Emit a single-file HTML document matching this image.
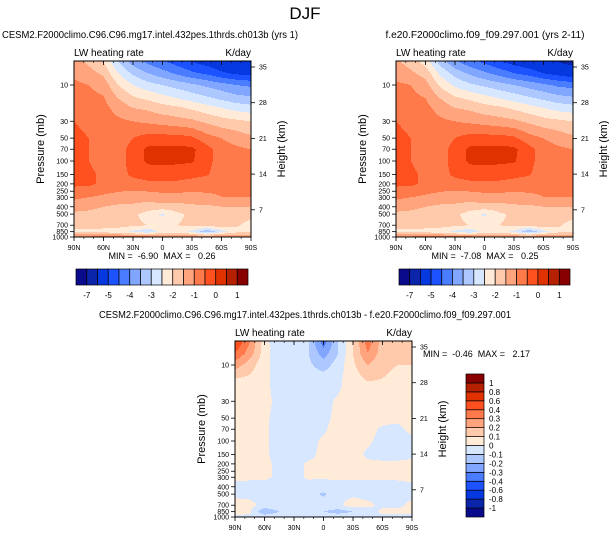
<!DOCTYPE html>
<html><head><meta charset="utf-8">
<style>
body{margin:0;background:#fff;}
#root{position:relative;width:609px;height:538px;overflow:hidden;font-family:"Liberation Sans",sans-serif;color:#000;}
text{white-space:pre;}
</style></head>
<body>
<div id="root">
<svg id="svg" width="609" height="538" style="position:absolute;left:0;top:0"></svg>
</div>
<script>
const pLevels=[5,7,10,15,20,30,50,70,100,150,200,300,400,500,700,850,1000];
const latValues=[90,75,60,45,30,15,0,-15,-30,-45,-60,-75,-90];
const fieldA=[
[-1.3,-1.6,-2.0,-3.0,-3.7,-4.1,-4.4,-4.7,-5.0,-5.2,-5.5,-5.8,-6.0],
[-1.1,-1.3,-1.6,-2.5,-3.1,-3.5,-3.8,-4.1,-4.4,-4.6,-4.9,-5.1,-5.2],
[-0.9,-1.0,-1.2,-2.0,-2.5,-2.8,-3.0,-3.2,-3.4,-3.6,-3.8,-4.0,-4.1],
[-0.8,-0.85,-0.95,-1.5,-1.9,-2.1,-2.3,-2.5,-2.7,-2.9,-3.1,-3.3,-3.4],
[-0.7,-0.75,-0.85,-1.2,-1.5,-1.6,-1.8,-1.9,-2.1,-2.3,-2.5,-2.7,-2.8],
[-0.5,-0.6,-0.75,-0.9,-1.0,-1.1,-1.2,-1.3,-1.4,-1.6,-1.8,-1.9,-2.0],
[-0.4,-0.5,-0.7,-0.8,-0.5,-0.3,-0.3,-0.3,-0.4,-0.8,-1.0,-1.2,-1.4],
[-0.4,-0.5,-0.7,-0.7,-0.3,0.1,0.15,0.15,0.1,-0.3,-0.8,-0.9,-1.0],
[-0.4,-0.5,-0.7,-0.7,-0.3,0.1,0.15,0.1,0.05,-0.3,-0.8,-0.9,-0.9],
[-0.3,-0.4,-0.6,-0.7,-0.4,-0.3,-0.3,-0.3,-0.35,-0.45,-0.8,-0.9,-0.9],
[-0.4,-0.4,-0.6,-0.7,-0.7,-0.6,-0.6,-0.6,-0.7,-0.8,-0.9,-0.9,-0.9],
[-0.9,-1.0,-1.1,-1.2,-1.3,-1.3,-1.2,-1.2,-1.2,-1.1,-1.0,-1.0,-1.0],
[-1.3,-1.4,-1.5,-1.6,-1.6,-1.7,-1.7,-1.7,-1.6,-1.6,-1.5,-1.5,-1.5],
[-1.6,-1.6,-1.7,-1.8,-1.9,-2.2,-2.6,-2.1,-1.9,-1.8,-1.7,-1.7,-1.7],
[-1.8,-1.8,-1.8,-1.8,-1.9,-2.0,-2.1,-2.0,-1.9,-1.8,-1.7,-1.9,-2.3],
[-2.1,-2.1,-2.2,-2.3,-2.6,-2.9,-2.3,-2.3,-2.6,-3.4,-2.7,-2.2,-2.0],
[-0.9,-0.9,-0.8,-0.7,-0.8,-0.8,-0.9,-1.0,-1.0,-0.9,-0.9,-0.9,-1.2]];
const fieldB=[
[-1.4,-1.7,-2.2,-3.2,-3.9,-4.3,-4.6,-4.9,-5.2,-5.4,-5.7,-6.0,-6.3],
[-1.2,-1.4,-1.7,-2.6,-3.2,-3.6,-3.9,-4.2,-4.5,-4.7,-5.0,-5.2,-5.4],
[-0.9,-1.0,-1.3,-2.1,-2.6,-2.9,-3.1,-3.3,-3.5,-3.7,-3.9,-4.1,-4.2],
[-0.8,-0.85,-1.0,-1.5,-1.9,-2.1,-2.3,-2.5,-2.7,-2.9,-3.1,-3.3,-3.4],
[-0.7,-0.75,-0.85,-1.2,-1.5,-1.6,-1.8,-1.9,-2.1,-2.3,-2.5,-2.7,-2.8],
[-0.5,-0.6,-0.75,-0.9,-1.0,-1.1,-1.2,-1.3,-1.4,-1.6,-1.8,-1.9,-2.0],
[-0.4,-0.5,-0.7,-0.8,-0.5,-0.3,-0.3,-0.3,-0.4,-0.8,-1.0,-1.2,-1.4],
[-0.4,-0.5,-0.7,-0.7,-0.3,0.1,0.15,0.15,0.1,-0.3,-0.8,-0.9,-1.0],
[-0.4,-0.5,-0.7,-0.7,-0.3,0.1,0.15,0.1,0.05,-0.3,-0.8,-0.9,-0.9],
[-0.3,-0.4,-0.6,-0.7,-0.4,-0.3,-0.3,-0.3,-0.35,-0.45,-0.8,-0.9,-0.9],
[-0.4,-0.4,-0.6,-0.7,-0.7,-0.6,-0.6,-0.6,-0.7,-0.8,-0.9,-0.9,-0.9],
[-0.9,-1.0,-1.1,-1.2,-1.3,-1.3,-1.2,-1.2,-1.2,-1.1,-1.0,-1.0,-1.0],
[-1.3,-1.4,-1.5,-1.6,-1.6,-1.7,-1.7,-1.7,-1.6,-1.6,-1.5,-1.5,-1.5],
[-1.6,-1.6,-1.7,-1.8,-1.9,-2.2,-2.6,-2.1,-1.9,-1.8,-1.7,-1.7,-1.7],
[-1.8,-1.8,-1.8,-1.8,-1.9,-2.0,-2.1,-2.0,-1.9,-1.8,-1.7,-1.9,-2.3],
[-2.1,-2.1,-2.2,-2.3,-2.6,-2.9,-2.3,-2.3,-2.6,-3.4,-2.7,-2.2,-2.0],
[-0.9,-0.9,-0.8,-0.7,-0.8,-0.8,-0.9,-1.0,-1.0,-0.9,-0.9,-0.9,-1.2]];
const fieldDiff=[
[0.5,0.3,0.05,-0.1,-0.05,-0.1,-0.35,-0.1,0.1,0.35,0.15,0.1,0.1],
[0.4,0.25,0.05,-0.08,-0.05,-0.1,-0.25,-0.1,0.1,0.3,0.15,0.1,0.1],
[0.25,0.15,0.03,-0.05,-0.03,-0.08,-0.15,-0.05,0.08,0.2,0.12,0.1,0.1],
[0.1,0.08,0.02,-0.03,-0.03,-0.05,-0.05,-0.02,0.05,0.12,0.1,0.08,0.08],
[0.05,0.05,0.02,-0.03,-0.03,-0.03,-0.03,-0.01,0.04,0.06,0.06,0.05,0.05],
[0.05,0.04,0.02,-0.02,-0.03,-0.02,-0.02,0.01,0.04,0.04,0.04,0.04,0.04],
[0.04,0.03,0.01,-0.02,-0.03,-0.02,-0.02,0.02,0.03,0.03,0.02,0.02,0.03],
[0.03,0.02,0.01,-0.02,-0.03,-0.02,-0.01,0.03,0.03,0.02,-0.01,-0.02,0.02],
[0.03,0.02,0.01,-0.02,-0.03,-0.02,0.01,0.03,0.03,0.01,-0.02,-0.02,-0.02],
[0.03,0.02,0.01,-0.02,-0.02,-0.02,0.02,0.03,0.02,-0.01,-0.02,-0.02,-0.02],
[0.03,0.02,0.01,-0.01,-0.02,0.01,0.02,0.02,0.02,0.01,0.01,0.01,0.02],
[0.02,0.01,0.01,-0.01,-0.02,0.01,0.01,0.01,0.01,0.01,0.01,0.01,0.02],
[-0.03,-0.02,-0.02,-0.03,-0.03,-0.03,-0.04,-0.02,-0.02,-0.03,-0.03,-0.02,-0.02],
[-0.03,-0.02,-0.03,-0.03,-0.03,-0.05,-0.12,-0.03,-0.02,-0.03,-0.03,-0.02,-0.02],
[0.05,0.02,-0.02,-0.02,-0.02,-0.03,-0.03,-0.02,0.05,0.02,-0.02,-0.02,0.02],
[0.04,0.02,-0.2,-0.1,-0.03,-0.05,-0.1,-0.15,-0.1,-0.05,0.02,0.02,0.02],
[-0.03,-0.02,-0.02,-0.02,-0.02,-0.02,-0.03,-0.02,-0.02,-0.02,-0.02,-0.02,-0.02]];
const levelsAbs=[-7,-6,-5,-4.5,-4,-3.5,-3,-2.5,-2,-1.5,-1,-0.5,0,0.5,1];
const absLabels=["-7","","-5","","-4","","-3","","-2","","-1","","0","","1"];
const levelsDiff=[-1,-0.8,-0.6,-0.4,-0.3,-0.2,-0.1,0,0.1,0.2,0.3,0.4,0.6,0.8,1];
const diffLabels=["-1","-0.8","-0.6","-0.4","-0.3","-0.2","-0.1","0","0.1","0.2","0.3","0.4","0.6","0.8","1"];
const palette=["#0a0a8c","#0a24aa","#0638e0","#1c52ff","#4a7cff","#80a6ff","#adc8ff","#d6e7ff","#ffebd8","#ffc9ab","#ffa47d","#ff7a4a","#ff5020","#e03200","#b52000","#880000"];
const pTicks=[10,30,50,70,100,150,200,250,300,400,500,700,850,1000];
const hTicks=[35,28,21,14,7];
const latTicks=["90N","60N","30N","0","30S","60S","90S"];

const NS="http://www.w3.org/2000/svg";
const svg=document.getElementById('svg');
function mk(tag,attrs,parent){const e=document.createElementNS(NS,tag);for(const k in attrs)e.setAttribute(k,attrs[k]);(parent||svg).appendChild(e);return e;}
function txt(x,y,s,size,anchor,name,extra){const t=mk('text',Object.assign({x:x,y:y,'font-size':size,'text-anchor':anchor||'start','font-family':'Liberation Sans, sans-serif'},extra||{}));t.textContent=s;


return t;}
txt(305,19,"DJF",17,'middle','figure-title');

function colorFor(v,levels){let i=0;while(i<levels.length&&v>=levels[i])i++;return palette[i];}
const lps=pLevels.map(p=>Math.log10(p));
function interp(field,lat,lp){
  let fi=(90-lat)/15; fi=Math.max(0,Math.min(12,fi));
  let j=0; while(j<lps.length-2&&lp>lps[j+1])j++;
  let t=(lp-lps[j])/(lps[j+1]-lps[j]); t=Math.max(0,Math.min(1,t));
  const i0=Math.min(11,Math.floor(fi)); const s=fi-i0;
  const a=field[j][i0]*(1-s)+field[j][i0+1]*s;
  const b=field[j+1][i0]*(1-s)+field[j+1][i0+1]*s;
  return a*(1-t)+b*t;
}
function panel(cfg){
  const {x0,x1,y0,y1,field,levels,name}=cfg;
  const W=x1-x0,H=y1-y0;
  const lpTop=1-(85-61)/76;
  const yOfP=p=>y0+(Math.log10(p)-lpTop)/(3-lpTop)*H;
  const g=mk('g',{});
  
  
  for(let yy=0;yy<H;yy+=1){
    const lp=lpTop+(yy+0.5)/H*(3-lpTop);
    let runStart=0,runCol=null;
    for(let xx=0;xx<=W;xx+=1){
      let col=null;
      if(xx<W){const lat=90-(xx+0.5)/W*180;col=colorFor(interp(field,lat,lp),levels);}
      if(col!==runCol||xx===W){
        if(runCol!==null){const r=mk('rect',{x:x0+runStart,y:y0+yy,width:xx-runStart+0.3,height:1.3,fill:runCol},g);
          
          }
        runStart=xx;runCol=col;
      }
    }
  }
  const fr=mk('rect',{x:x0,y:y0,width:W,height:H,fill:'none',stroke:'#000','stroke-width':1});
  
  
  pTicks.forEach(p=>{const y=yOfP(p);
    mk('line',{x1:x0-4,x2:x0,y1:y,y2:y,stroke:'#000','stroke-width':0.8});
    txt(x0-6,y+2.5,String(p),7,'end','pressure-tick-label');});
  hTicks.forEach(h=>{const y=y0+6+(35-h)*5.1;
    mk('line',{x1:x1,x2:x1+4,y1:y,y2:y,stroke:'#000','stroke-width':0.8});
    txt(x1+8,y+2.5,String(h),7,'start','height-tick-label');});
  latTicks.forEach((s,i)=>{const x=x0+i*W/6;
    mk('line',{x1:x,x2:x,y1:y1,y2:y1+4,stroke:'#000','stroke-width':0.8});
    mk('line',{x1:x,x2:x,y1:y0,y2:y0+4,stroke:'#000','stroke-width':0.8});
    txt(x,y1+13,s,7,'middle','latitude-tick-label');});
  for(let i=0;i<18;i++){const x=x0+i*W/18;mk('line',{x1:x,x2:x,y1:y0,y2:y0+2,stroke:'#000','stroke-width':0.6});mk('line',{x1:x,x2:x,y1:y1,y2:y1+2,stroke:'#000','stroke-width':0.6});}
  txt(x0,y0-5,"LW heating rate",10,'start','variable-label');
  txt(x1,y0-5,"K/day",10,'end','units-label');
  const cy=(y0+y1)/2;
  txt(0,0,"Pressure (mb)",11,'middle','y-axis-title',{transform:`translate(${x0-30},${cy}) rotate(-90)`});
  txt(0,0,"Height (km)",11,'middle','y2-axis-title',{transform:`translate(${x1+34},${cy}) rotate(-90)`});
}
function hbar(x0,x1,y0,y1,levels,labels,name){
  const n=palette.length,w=(x1-x0)/n;
  palette.forEach((c,i)=>{const r=mk('rect',{x:x0+i*w,y:y0,width:w,height:y1-y0,fill:c,stroke:'#000','stroke-width':0.7});
    
    });
  labels.forEach((s,i)=>{if(s)txt(x0+(i+1)*w,y1+13,s,8,'middle',name+'-label');});
}
function vbar(x0,x1,y0,y1,labels,name){
  const n=palette.length,h=(y1-y0)/n;
  palette.forEach((c,i)=>{const r=mk('rect',{x:x0,y:y1-(i+1)*h,width:x1-x0,height:h,fill:c,stroke:'#000','stroke-width':0.7});
    
    });
  labels.forEach((s,i)=>{txt(x1+5,y1-(i+1)*h+3,s,8,'start',name+'-label');});
}
txt(150,38,"CESM2.F2000climo.C96.C96.mg17.intel.432pes.1thrds.ch013b (yrs 1)",10,'middle','left-panel-title',{textLength:296,lengthAdjust:'spacingAndGlyphs'});
panel({x0:74,x1:251,y0:61,y1:237,field:fieldA,levels:levelsAbs,name:'left-contour-panel'});
txt(162,259,"MIN =  -6.90  MAX =   0.26",9,'middle','left-min-max');
hbar(76,248,269,285,levelsAbs,absLabels,'left-colorbar');

txt(485,38,"f.e20.F2000climo.f09_f09.297.001 (yrs 2-11)",10,'middle','right-panel-title',{textLength:199,lengthAdjust:'spacingAndGlyphs'});
panel({x0:396,x1:573,y0:61,y1:237,field:fieldB,levels:levelsAbs,name:'right-contour-panel'});
txt(485,259,"MIN =  -7.08  MAX =   0.25",9,'middle','right-min-max');
hbar(399,570,269,285,levelsAbs,absLabels,'right-colorbar');

txt(305,318,"CESM2.F2000climo.C96.C96.mg17.intel.432pes.1thrds.ch013b - f.e20.F2000climo.f09_f09.297.001",10,'middle','diff-panel-title',{textLength:412,lengthAdjust:'spacingAndGlyphs'});
panel({x0:235,x1:412,y0:341,y1:517,field:fieldDiff,levels:levelsDiff,name:'diff-contour-panel'});
txt(423,357,"MIN =  -0.46  MAX =   2.17",9,'start','diff-min-max');
vbar(466,484,374,517,diffLabels,'diff-colorbar');
</script>
</body></html>
